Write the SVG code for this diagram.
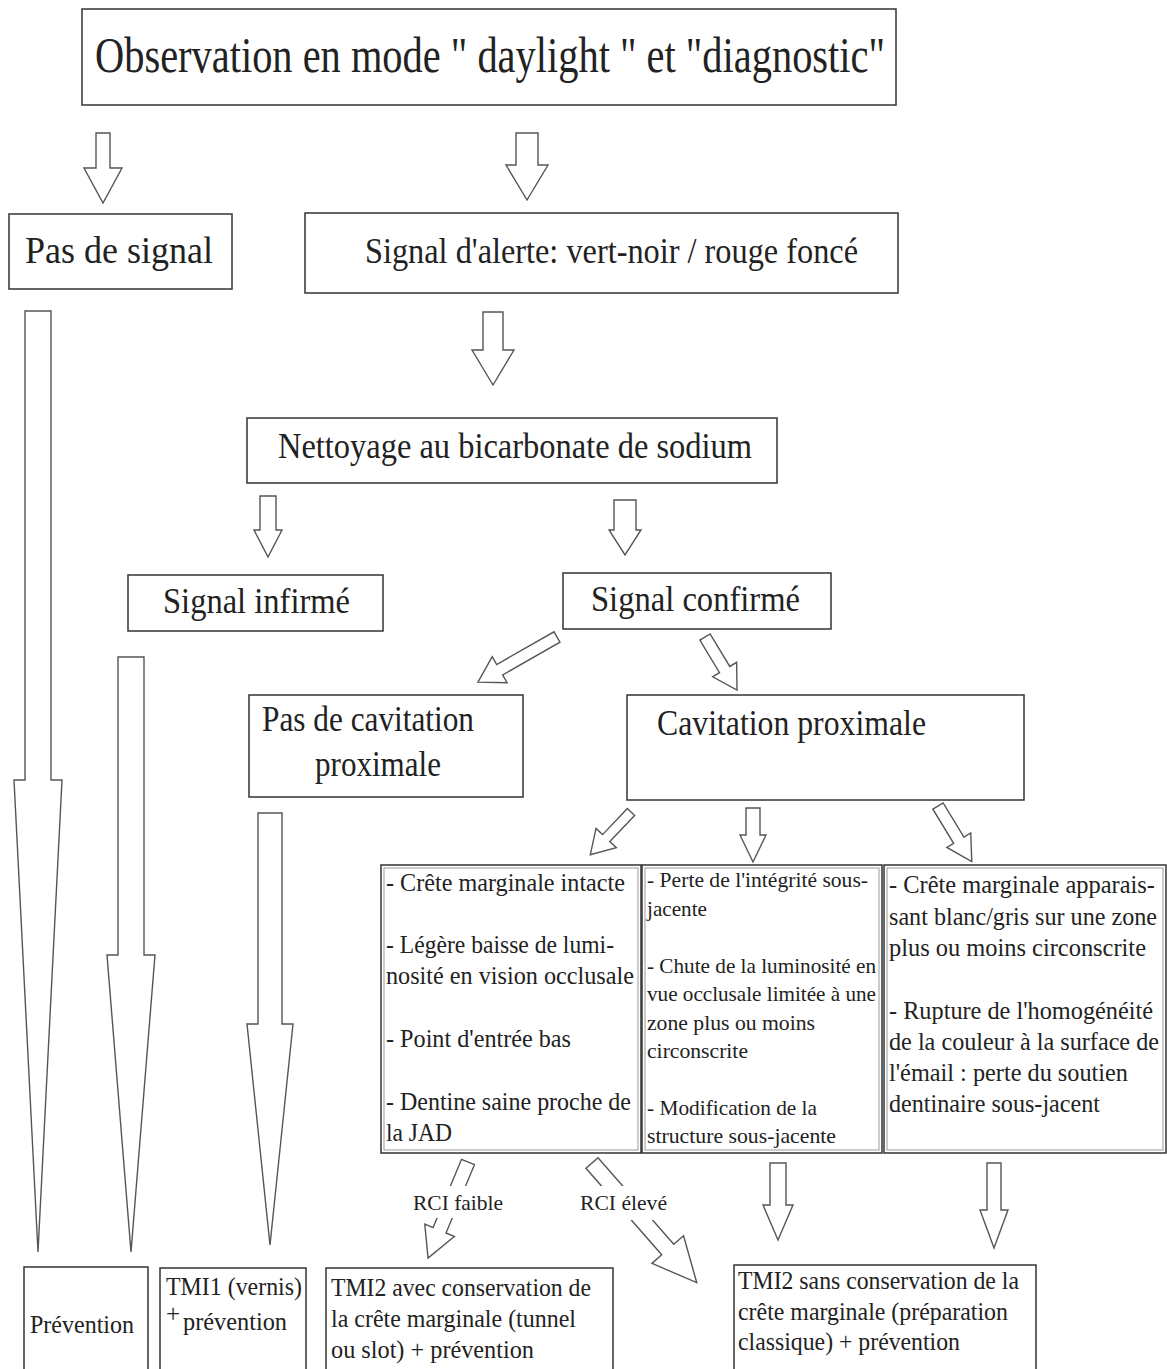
<svg xmlns="http://www.w3.org/2000/svg" width="1167" height="1369" viewBox="0 0 1167 1369" font-family="Liberation Serif, Times New Roman, DejaVu Serif, serif">
<style>
.box{fill:#fff;stroke:#333;stroke-width:1.5}
.inner{fill:none;stroke:#999;stroke-width:1}
.arr{fill:#fff;stroke:#555;stroke-width:1.4;stroke-linejoin:miter}
.t1{font-size:50px;fill:#222}
.t2{font-size:38px;fill:#222}
.t3{font-size:36px;fill:#222}
.t4{font-size:25px;fill:#222}
.t5{font-size:21px;fill:#222}
.lbl{font-size:21px;fill:#222}
</style>
<rect width="1167" height="1369" fill="#fff"/>
<g id="connectors">
<polygon class="arr" points="96,133 110,133 110,168 122,168 103,203 84,168 96,168"/>
<polygon class="arr" points="516,133 538,133 538,165 548,165 527,200 506,165 516,165"/>
<polygon class="arr" points="483,312 503,312 503,350 514,350 493,385 472,350 483,350"/>
<polygon class="arr" points="260,496 276,496 276,530 282,530 268,557 254,530 260,530"/>
<polygon class="arr" points="614,500 636,500 636,530 641,530 625,555 609,530 614,530"/>
<polygon class="arr" points="25,311 51,311 51,780 62,780 38,1252 14,780 25,780"/>
<polygon class="arr" points="118,657 144,657 144,955 155,955 131,1252 107,955 118,955"/>
<polygon class="arr" points="258,813 282,813 282,1024 293,1024 270,1245 247,1024 258,1024"/>
<polygon class="arr" points="746,808 760,808 760,835 766,835 753,862 740,835 746,835"/>
<polygon class="arr" points="770,1163 786,1163 786,1205 793,1205 778,1240 763,1205 770,1205"/>
<polygon class="arr" points="987,1163 1001,1163 1001,1210 1008,1210 994,1248 980,1210 987,1210"/>
<g transform="translate(557,637) rotate(60.3)"><polygon class="arr" points="-6,0 6,0 6,66 15,66 0,91 -15,66 -6,66"/></g>
<g transform="translate(705,637) rotate(-31.1)"><polygon class="arr" points="-6,0 6,0 6,38 14,38 0,62 -14,38 -6,38"/></g>
<g transform="translate(631,812) rotate(43.6)"><polygon class="arr" points="-5,0 5,0 5,36 14,36 0,59 -14,36 -5,36"/></g>
<g transform="translate(938,806) rotate(-31.3)"><polygon class="arr" points="-6,0 6,0 6,40 14,40 0,65 -14,40 -6,40"/></g>
<g transform="translate(468,1162) rotate(22.6)"><polygon class="arr" points="-7,0 7,0 7,74 16,74 0,104 -16,74 -7,74"/></g>
<g transform="translate(592,1163) rotate(-41.2)"><polygon class="arr" points="-8,0 8,0 8,115 21,115 0,159 -21,115 -8,115"/></g>
<rect x="405" y="1186" width="104" height="32" fill="#fff"/>
<rect x="574" y="1186" width="100" height="34" fill="#fff"/>
</g>
<g id="n-observation">
<rect class="box" x="82" y="9" width="814" height="96"/>
<text class="t1" x="95" y="72" textLength="790" lengthAdjust="spacingAndGlyphs">Observation en mode " daylight " et "diagnostic"</text>
</g>
<g id="n-pas-signal">
<rect class="box" x="9" y="214" width="223" height="75"/>
<text class="t2" x="25" y="263" textLength="188" lengthAdjust="spacingAndGlyphs">Pas de signal</text>
</g>
<g id="n-alerte">
<rect class="box" x="305" y="213" width="593" height="80"/>
<text class="t3" x="365" y="263" textLength="493" lengthAdjust="spacingAndGlyphs">Signal d'alerte: vert-noir / rouge foncé</text>
</g>
<g id="n-nettoyage">
<rect class="box" x="247" y="418" width="530" height="65"/>
<text class="t3" x="278" y="458" textLength="474" lengthAdjust="spacingAndGlyphs">Nettoyage au bicarbonate de sodium</text>
</g>
<g id="n-infirme">
<rect class="box" x="128" y="575" width="255" height="56"/>
<text class="t3" x="163" y="613" textLength="187" lengthAdjust="spacingAndGlyphs">Signal infirmé</text>
</g>
<g id="n-confirme">
<rect class="box" x="563" y="573" width="268" height="56"/>
<text class="t3" x="591" y="611" textLength="209" lengthAdjust="spacingAndGlyphs">Signal confirmé</text>
</g>
<g id="n-pas-cavitation">
<rect class="box" x="249" y="695" width="274" height="102"/>
<text class="t3" x="262" y="731" textLength="212" lengthAdjust="spacingAndGlyphs">Pas de cavitation</text>
<text class="t3" x="315" y="776" textLength="126" lengthAdjust="spacingAndGlyphs">proximale</text>
</g>
<g id="n-cavitation">
<rect class="box" x="627" y="695" width="397" height="105"/>
<text class="t3" x="657" y="735" textLength="269" lengthAdjust="spacingAndGlyphs">Cavitation  proximale</text>
</g>
<g id="n-crit1">
<rect class="box" x="381" y="865" width="260" height="288"/>
<rect class="inner" x="384" y="868" width="254" height="282"/>
<text class="t4" x="386" y="891" textLength="239" lengthAdjust="spacingAndGlyphs">- Crête marginale intacte</text>
<text class="t4" x="386" y="953" textLength="228" lengthAdjust="spacingAndGlyphs">- Légère baisse de lumi-</text>
<text class="t4" x="386" y="984" textLength="248" lengthAdjust="spacingAndGlyphs">nosité en vision occlusale</text>
<text class="t4" x="386" y="1047" textLength="185" lengthAdjust="spacingAndGlyphs">- Point d'entrée bas</text>
<text class="t4" x="386" y="1110" textLength="245" lengthAdjust="spacingAndGlyphs">- Dentine saine proche de</text>
<text class="t4" x="386" y="1141" textLength="66" lengthAdjust="spacingAndGlyphs">la JAD</text>
</g>
<g id="n-crit2">
<rect class="box" x="642" y="865" width="240" height="288"/>
<rect class="inner" x="645" y="868" width="234" height="282"/>
<text class="t5" x="647" y="887" textLength="221" lengthAdjust="spacingAndGlyphs">- Perte de l'intégrité sous-</text>
<text class="t5" x="647" y="916" textLength="60" lengthAdjust="spacingAndGlyphs">jacente</text>
<text class="t5" x="647" y="973" textLength="229" lengthAdjust="spacingAndGlyphs">- Chute de la luminosité en</text>
<text class="t5" x="647" y="1001" textLength="229" lengthAdjust="spacingAndGlyphs">vue occlusale limitée à une</text>
<text class="t5" x="647" y="1030" textLength="168" lengthAdjust="spacingAndGlyphs">zone plus ou moins</text>
<text class="t5" x="647" y="1058" textLength="101" lengthAdjust="spacingAndGlyphs">circonscrite</text>
<text class="t5" x="647" y="1115" textLength="170" lengthAdjust="spacingAndGlyphs">- Modification de la</text>
<text class="t5" x="647" y="1143" textLength="189" lengthAdjust="spacingAndGlyphs">structure sous-jacente</text>
</g>
<g id="n-crit3">
<rect class="box" x="884" y="865" width="282" height="288"/>
<rect class="inner" x="887" y="868" width="276" height="282"/>
<text class="t4" x="889" y="893" textLength="266" lengthAdjust="spacingAndGlyphs">- Crête marginale apparais-</text>
<text class="t4" x="889" y="925" textLength="268" lengthAdjust="spacingAndGlyphs">sant blanc/gris sur une zone</text>
<text class="t4" x="889" y="956" textLength="257" lengthAdjust="spacingAndGlyphs">plus ou moins circonscrite</text>
<text class="t4" x="889" y="1019" textLength="264" lengthAdjust="spacingAndGlyphs">- Rupture de l'homogénéité</text>
<text class="t4" x="889" y="1050" textLength="270" lengthAdjust="spacingAndGlyphs">de la couleur à la surface de</text>
<text class="t4" x="889" y="1081" textLength="239" lengthAdjust="spacingAndGlyphs">l'émail : perte du soutien</text>
<text class="t4" x="889" y="1112" textLength="211" lengthAdjust="spacingAndGlyphs">dentinaire sous-jacent</text>
</g>
<g id="labels">
<text class="lbl" x="413" y="1210" textLength="90" lengthAdjust="spacingAndGlyphs">RCI faible</text>
<text class="lbl" x="580" y="1210" textLength="87" lengthAdjust="spacingAndGlyphs">RCI élevé</text>
</g>
<g id="n-prevention">
<rect class="box" x="24" y="1267" width="124" height="110"/>
<text class="t4" x="30" y="1333" textLength="104" lengthAdjust="spacingAndGlyphs">Prévention</text>
</g>
<g id="n-tmi1">
<rect class="box" x="160" y="1268" width="146" height="110"/>
<text class="t4" x="166" y="1295" textLength="136" lengthAdjust="spacingAndGlyphs">TMI1 (vernis)</text>
<text class="t4" x="166" y="1322" font-size="18">+</text>
<text class="t4" x="183" y="1330" textLength="104" lengthAdjust="spacingAndGlyphs">prévention</text>
</g>
<g id="n-tmi2-avec">
<rect class="box" x="326" y="1268" width="287" height="110"/>
<text class="t4" x="331" y="1296" textLength="260" lengthAdjust="spacingAndGlyphs">TMI2 avec conservation de</text>
<text class="t4" x="331" y="1327" textLength="245" lengthAdjust="spacingAndGlyphs">la crête marginale (tunnel</text>
<text class="t4" x="331" y="1358" textLength="203" lengthAdjust="spacingAndGlyphs">ou slot) + prévention</text>
</g>
<g id="n-tmi2-sans">
<rect class="box" x="734" y="1265" width="302" height="110"/>
<text class="t4" x="738" y="1289" textLength="281" lengthAdjust="spacingAndGlyphs">TMI2 sans conservation de la</text>
<text class="t4" x="738" y="1320" textLength="270" lengthAdjust="spacingAndGlyphs">crête marginale (préparation</text>
<text class="t4" x="738" y="1350" textLength="222" lengthAdjust="spacingAndGlyphs">classique) + prévention</text>
</g>
</svg>
